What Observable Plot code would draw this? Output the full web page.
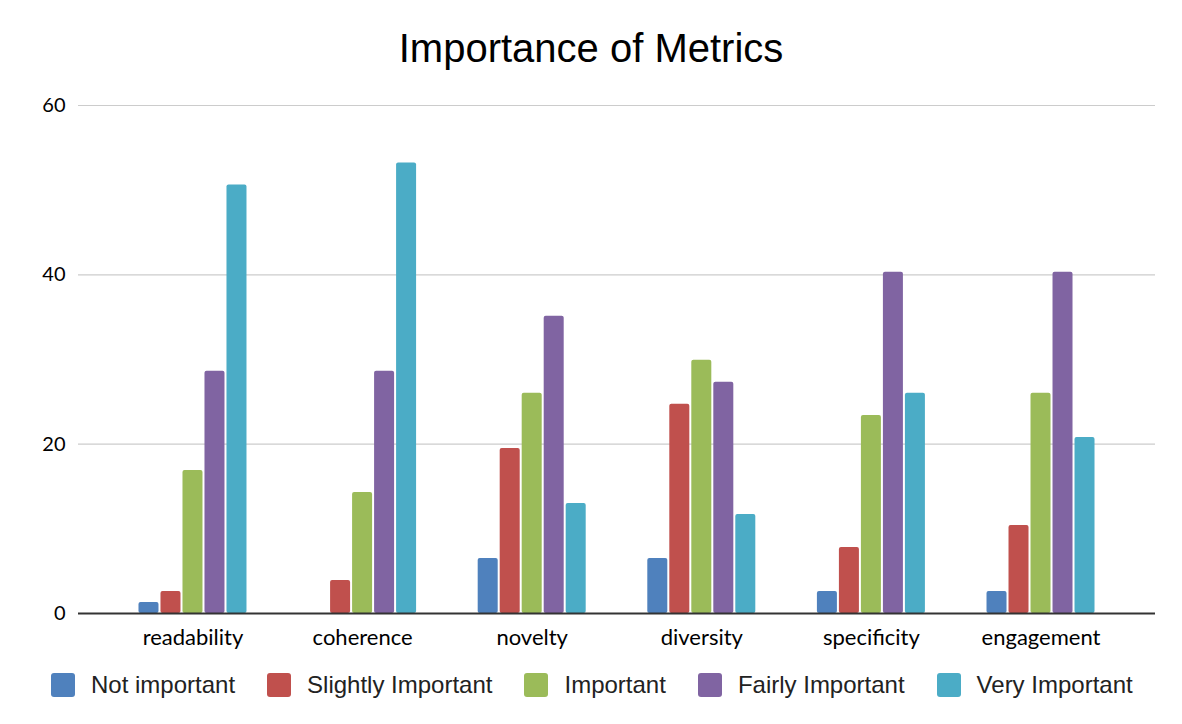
<!DOCTYPE html>
<html>
<head>
<meta charset="utf-8">
<script src="https://cdn.jsdelivr.net/npm/d3@7"></script>
<script src="https://cdn.jsdelivr.net/npm/@observablehq/plot@0.6"></script>
<style>
  html, body { margin: 0; padding: 0; background: #fff; }
  #wrap { width: 1182px; }
  #title { box-sizing: border-box; height: 70px; padding-top: 28px; line-height: 40px; font-family: "Liberation Sans", Arial, sans-serif; font-size: 40px; text-align: center; color: #000; white-space: nowrap; }
  #legend { box-sizing: border-box; height: 60px; padding-top: 13px; padding-left: 51px; display: flex; align-items: flex-start; font-family: "Liberation Sans", Arial, sans-serif; font-size: 24px; line-height: 24px; color: #222; }
  .item { display: flex; align-items: center; margin-right: 32px; height: 24px; white-space: nowrap; }
  .sw { width: 24px; height: 24px; border-radius: 3px; margin-right: 16px; }
</style>
</head>
<body>
<div id="wrap">
  <div id="title">Importance of Metrics</div>
  <div id="chart"></div>
  <div id="legend"></div>
</div>
<script>
const categories = ["readability", "coherence", "novelty", "diversity", "specificity", "engagement"];
const seriesNames = ["Not important", "Slightly Important", "Important", "Fairly Important", "Very Important"];
const seriesColors = ["#4F81BD", "#C0504D", "#9BBB59", "#8064A2", "#4BACC6"];
const yTicks = [0, 20, 40, 60];

const notImportant      = [1.3, 0, 6.5, 6.5, 2.6, 2.6];
const slightlyImportant = [2.6, 3.9, 19.5, 24.7, 7.8, 10.4];
const important         = [16.9, 14.3, 26.0, 29.9, 23.4, 26.0];
const fairlyImportant   = [28.6, 28.6, 35.1, 27.3, 40.3, 40.3];
const veryImportant     = [50.6, 53.2, 13.0, 11.7, 26.0, 20.8];

const seriesValues = [notImportant, slightlyImportant, important, fairlyImportant, veryImportant];

const table = [];
seriesNames.forEach((s, k) => {
  categories.forEach((c, i) => table.push({category: c, series: s, value: seriesValues[k][i]}));
});

const barMarks = seriesNames.map((s, k) =>
  Plot.barY(table.filter(d => d.series === s), {
    x: "category",
    y: "value",
    fill: "series",
    insetLeft: 74.8,
    insetRight: 74.8,
    dx: (k - 2) * 22,
    rx: 2
  })
);

const chart = Plot.plot({
  width: 1182,
  height: 590,
  marginTop: 35,
  marginBottom: 47,
  marginLeft: 78,
  marginRight: 27,
  style: {fontFamily: "Lato, sans-serif", fontSize: "20px", color: "#000", background: "#fff"},
  x: {domain: categories, paddingInner: 0, paddingOuter: 0.175, round: false, label: null},
  y: {domain: [0, 60], label: null},
  color: {domain: seriesNames, range: seriesColors},
  marks: [
    Plot.gridY(yTicks, {stroke: "#cccccc", strokeOpacity: 1, strokeWidth: 1.2}),
    Plot.axisY(yTicks, {tickSize: 0, tickPadding: 13, label: null, fontSize: 20}),
    Plot.axisX({tickSize: 0, tickPadding: 16, label: null, fontSize: 22}),
    ...barMarks,
    Plot.ruleY([0], {stroke: "#333333", strokeWidth: 2})
  ]
});
document.getElementById("chart").appendChild(chart);

const legend = document.getElementById("legend");
seriesNames.forEach((s, k) => {
  const item = document.createElement("div");
  item.className = "item";
  const sw = document.createElement("div");
  sw.className = "sw";
  sw.style.background = seriesColors[k];
  const label = document.createElement("span");
  label.textContent = s;
  item.appendChild(sw);
  item.appendChild(label);
  legend.appendChild(item);
});
</script>
</body>
</html>
